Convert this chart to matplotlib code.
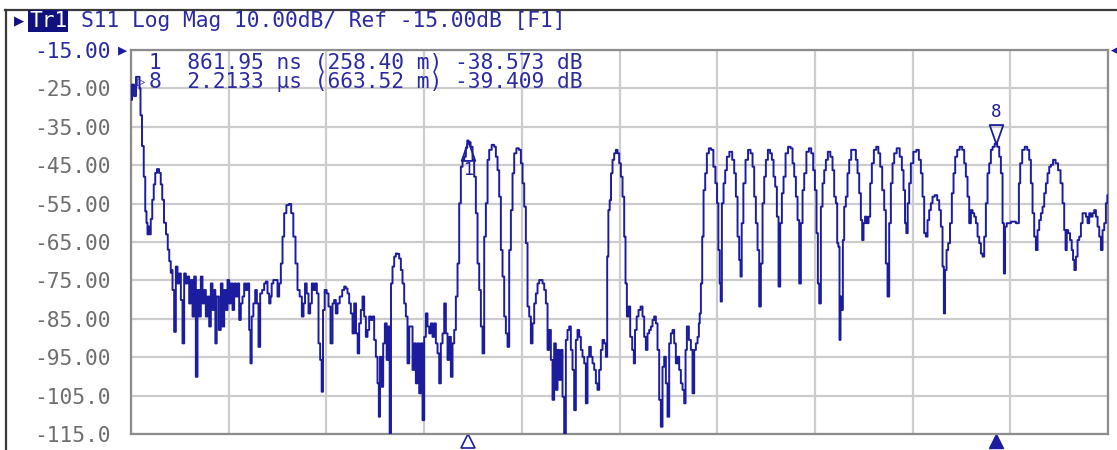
#------------------------------------------------------------------------------
#   VNA time-domain trace (S11 Log Mag) recreation
#------------------------------------------------------------------------------

import matplotlib.pyplot as plt
from matplotlib.transforms import blended_transform_factory
from matplotlib.lines import Line2D

#------------------------------------------------------------------------------
#   Data
#------------------------------------------------------------------------------
time_ns = [
    0, 5.1, 10.2, 15.4, 20.5, 23, 25.6, 30.7, 34.5, 38.4, 40.9, 43.5, 46.1, 48.6,
    52.5, 56.3, 60.1, 64, 69.1, 74.2, 78, 81.9, 87, 92.1, 96, 99.8, 103.6,
    104.1, 108.3, 112.6, 116.9, 121.1, 125.4, 129.7, 133.9, 138.2, 142.5, 146.7,
    151.0, 155.3, 159.5, 163.8, 168.0, 172.3, 176.6, 180.8, 185.1, 189.4, 193.6,
    197.9, 202.2, 206.4, 210.7, 215.0, 216.7, 221.8, 227.8, 232.0, 236.3, 240.6,
    244.8, 249.1, 253.4, 257.6, 261.9, 266.1, 270.4, 274.7, 278.9, 283.2, 287.5,
    291.7, 296.0, 300.3, 304.5, 307.1, 310.5, 315.6, 319.9, 324.1, 328.4, 332.7,
    338.6, 342.9, 347.2, 351.4, 355.7,
    358.3, 361.7, 366.8, 372.8, 377.0, 381.3, 385.6, 389.8, 394.1, 400.9, 406.9,
    412.8, 418.0, 423.9, 428.2, 435.0, 439.3, 443.6, 447.0, 452.1, 456.3, 460.6,
    464.9, 469.1, 473.4, 477.7, 481.9, 486.2, 489.6, 493.0, 498.1, 503.3, 507.5,
    513.5, 517.8, 522.0, 526.3, 530.6, 537.4, 543.4, 547.6, 551.9, 556.2, 560.4,
    564.7, 569.0, 573.2, 578.3, 581.7, 586.0, 590.3, 594.5, 598.8, 603.1, 607.3,
    611.6, 615.9, 620.1, 624.4, 628.7, 632.9, 635.5, 638.9, 643.2, 647.4, 651.7,
    656.8, 660.2, 663.6, 667.0, 671.3, 675.6, 679.8, 684.1, 688.4, 692.6, 696.9,
    701.2, 705.4, 709.7,
    714.0, 718.3, 722.5, 726.8, 731.1, 735.3, 739.6, 743.9, 748.1, 752.4, 756.6,
    760.9, 765.2, 769.4, 773.7, 778.0, 782.2, 786.5, 790.8, 795.0, 799.3, 803.6,
    807.8, 812.1, 816.4, 820.6, 824.9, 829.2, 833.4, 837.7, 841.9, 846.2, 850.5,
    854.7, 859.0, 861.95, 866.0, 871.8, 876.1, 880.3, 884.6, 888.9, 893.1, 897.4,
    901.7, 905.9, 910.2, 914.5, 918.7, 927.2, 931.5, 935.8, 940.0, 944.3, 948.6,
    952.8, 957.1, 961.4, 965.6, 969.9, 974.2, 978.4, 982.7, 989.5, 995.5, 999.8,
    1004.0, 1008.3, 1012.5, 1016.8, 1021.1, 1025.3, 1029.6, 1033.9, 1038.1,
    1042.4, 1046.7, 1050.9, 1055.2, 1059.5, 1063.7, 1068.0,
    1072.2, 1076.5, 1080.7, 1085.0, 1089.3, 1093.5, 1097.8, 1102.1, 1106.3,
    1110.6, 1114.8, 1119.1, 1123.4, 1127.6, 1131.9, 1136.2, 1140.4, 1144.7,
    1149.0, 1153.2, 1157.5, 1161.8, 1166.0, 1170.3, 1174.6, 1178.8, 1183.1,
    1187.4, 1191.6, 1195.9, 1200.2, 1204.4, 1208.7, 1213.0, 1217.2, 1219.8,
    1223.2, 1226.6, 1230.0, 1234.3, 1238.5, 1242.8, 1247.1, 1251.3, 1255.6,
    1259.9, 1264.1, 1266.7, 1271.0, 1275.2, 1279.5, 1285.4, 1288.0, 1291.4,
    1296.5, 1300.8, 1306.8, 1311.0, 1315.3, 1319.6, 1323.8, 1328.1, 1332.4,
    1336.6, 1340.9, 1345.2, 1349.4, 1353.7, 1357.9, 1362.2, 1366.5, 1370.7,
    1375.0, 1379.3, 1383.5, 1387.8, 1392.1, 1396.3, 1400.6, 1404.9, 1409.1,
    1413.4,
    1417.7, 1420.3, 1424.5, 1430.5, 1434.8, 1439.0, 1443.3, 1447.6, 1451.8,
    1454.4, 1456.1, 1460.4, 1462.9, 1467.2, 1471.4, 1475.7, 1481.7, 1487.6,
    1492.8, 1497.9, 1501.3, 1504.7, 1508.1, 1509.8, 1514.1, 1518.4, 1522.6,
    1526.9, 1535.4, 1541.4, 1545.7, 1549.9, 1554.2, 1558.4, 1561.0, 1564.4,
    1569.5, 1575.5, 1582.3, 1588.3, 1592.6, 1596.8, 1601.1, 1605.4, 1609.6,
    1613.9, 1618.2, 1622.4, 1626.7, 1632.7, 1637.8, 1642.0, 1646.3, 1650.6,
    1654.8, 1659.1, 1663.4, 1667.6, 1671.9, 1677.9, 1684.7, 1690.7, 1694.9,
    1699.2, 1703.5, 1707.7, 1712.0, 1716.3, 1720.5, 1724.8, 1731.6, 1737.6,
    1743.5, 1747.8, 1752.1, 1756.3, 1758.9, 1763.2, 1767.4, 1771.7, 1776.0,
    1780.2,
    1786.1, 1793.0, 1797.2, 1801.5, 1805.8, 1808.3, 1811.7, 1814.3, 1816.8,
    1820.3, 1822.8, 1827.1, 1831.3, 1835.6, 1839.9, 1845.8, 1852.7, 1856.9,
    1861.2, 1865.5, 1869.7, 1872.3, 1876.6, 1880.0, 1885.1, 1889.4, 1893.6,
    1897.9, 1903.9, 1909.8, 1915.0, 1919.2, 1925.2, 1929.4, 1933.7, 1938.0,
    1942.2, 1946.5, 1950.8, 1955.0, 1963.6, 1970.4, 1974.7, 1978.9, 1982.3,
    1985.7, 1989.2, 1993.4, 1997.7, 2006.2, 2013.0, 2019.0, 2023.3, 2027.5,
    2031.8, 2036.1, 2040.3, 2044.6, 2048.9, 2053.1, 2059.9, 2065.9, 2070.2,
    2074.4, 2078.7, 2081.3, 2084.7, 2088.9, 2093.2, 2098.3, 2102.6, 2106.9,
    2111.1, 2117.1, 2123.9, 2129.9, 2134.2, 2138.4, 2142.7, 2147.0,
    2151.3, 2155.5, 2159.8, 2164.1, 2168.3, 2172.6, 2176.9, 2181.1, 2185.4,
    2189.6, 2193.9, 2198.2, 2202.4, 2207.0, 2213.3, 2219.5, 2223.8, 2228.0,
    2232.3, 2234.9, 2238.3, 2243.4, 2249.4, 2253.6, 2262.2, 2266.4, 2270.7,
    2273.2, 2277.5, 2283.5, 2290.3, 2296.3, 2300.5, 2304.8, 2309.1, 2313.3,
    2317.6, 2321.9, 2326.1, 2330.4, 2334.7, 2338.9, 2343.2, 2347.5, 2351.7,
    2356.0, 2362.8, 2368.8, 2375.6, 2381.6, 2385.8, 2390.1, 2392.7, 2396.1,
    2400.3, 2405.4, 2408.9, 2412.3, 2415.7, 2420.0, 2424.2, 2428.5, 2432.8,
    2437.0, 2441.3, 2445.6, 2449.8, 2454.1, 2458.4, 2462.6, 2466.9, 2471.2,
    2475.4, 2479.7, 2484.0, 2488.2, 2492.5, 2496.7, 2500.0,
]

s11_db = [
    -28, -24, -27, -22, -22, -25, -32, -40, -48, -57, -60, -63, -61, -63,
    -59, -54, -50, -47, -46, -47, -50, -54, -60, -63, -67, -70, -73,
    -72.3, -77.5, -88.4, -71.4, -75.8, -73.2, -80.1, -91.4, -73.2, -75.8, -74.0,
    -81.0, -74.9, -84.4, -74.0, -100.1, -77.5, -84.4, -74.0, -81.0, -77.5, -84.4,
    -79.2, -87.0, -75.8, -82.7, -77.5, -91.4, -79.2, -87.9, -75.8, -87.0, -77.5,
    -82.7, -74.9, -81.0, -75.8, -82.7, -75.8, -79.2, -75.8, -85.3, -81.0, -79.2,
    -75.8, -77.5, -75.8, -87.9, -96.6, -84.4, -81.0, -77.5, -81.0, -92.3, -78.4,
    -77.5, -75.8, -75.3, -78.4, -81.0,
    -79.2, -75.8, -74.9, -74.9, -79.2, -75.8, -70.6, -63.6, -57.5, -55.4, -55.1,
    -57.5, -63.6, -70.6, -77.5, -79.2, -84.4, -81.0, -75.8, -78.4, -83.6, -81.0,
    -75.8, -77.5, -75.8, -78.4, -91.4, -95.7, -104.0, -82.7, -77.5, -78.4, -81.8,
    -91.4, -81.0, -80.1, -83.6, -81.0, -79.2, -77.5, -76.6, -77.1, -78.4, -81.0,
    -83.6, -88.8, -81.0, -88.8, -94.0, -86.2, -82.7, -79.2, -84.4, -89.7, -87.9,
    -84.4, -85.3, -84.4, -90.5, -94.9, -101.8, -110.5, -94.9, -102.7, -91.4, -86.2,
    -95.7, -87.0, -114.8, -75.8, -71.4, -68.8, -68.0, -68.1, -69.3, -72.3, -75.8,
    -81.0, -84.4, -96.6,
    -87.0, -87.0, -98.3, -91.4, -101.8, -91.4, -104.4, -91.4, -111.4, -89.7, -83.6,
    -87.0, -88.8, -86.2, -89.7, -86.2, -91.4, -94.0, -101.8, -91.4, -88.8, -81.0,
    -88.8, -95.7, -89.7, -100.1, -91.4, -87.9, -79.2, -70.6, -54.9, -45.4, -43.6,
    -42.8, -40.5, -38.573, -39.0, -40.2, -43.6, -48.0, -57.5, -70.6, -77.5, -87.0,
    -94.0, -63.6, -54.9, -43.6, -41.0, -39.7, -40.2, -42.8, -46.3, -53.2, -67.1,
    -74.0, -84.4, -88.8, -92.3, -67.1, -56.7, -47.1, -41.9, -40.6, -41.0, -44.5,
    -49.7, -55.8, -65.3, -81.8, -84.4, -91.4, -86.2, -81.0, -78.4,
    -75.8, -74.9, -74.9, -75.8, -77.5, -81.0, -93.1,
    -87.9, -95.7, -106.1, -91.4, -103.5, -93.1, -100.9, -93.1, -105.3,
    -114.8, -90.5, -87.9, -87.0, -93.1, -98.3, -108.8, -90.5, -87.9,
    -89.7, -93.1, -94.9, -96.6, -107.0, -94.9, -92.3, -94.9, -96.6,
    -98.3, -101.8, -103.5, -98.3, -93.1, -90.5, -91.4, -94.9, -68.8,
    -56.7, -54.1, -47.1, -43.6, -41.9, -41.0, -41.9, -44.5, -48.0,
    -53.2, -63.6, -75.8, -84.4, -81.8, -89.7, -93.1, -96.6, -87.9,
    -84.4, -82.7, -81.8, -84.4, -89.7, -93.1, -88.8, -87.9, -87.0,
    -85.3, -84.4, -86.2, -93.1, -106.1, -113.1, -97.5, -94.9, -101.8,
    -110.5, -91.4, -88.8, -87.9, -91.4, -96.6, -94.9, -98.3, -101.8,
    -103.5,
    -107.0, -93.1, -87.0, -90.5, -93.1, -104.4, -93.1, -91.4, -89.7,
    -86.2, -83.6, -75.8, -63.6, -51.5, -47.1, -41.9, -40.6, -41.0,
    -45.4, -49.7, -54.9, -67.1, -75.8, -80.5, -54.9, -49.7, -46.3,
    -42.8, -41.5, -43.6, -47.1, -53.2, -63.6, -69.7, -74.0, -60.1,
    -49.7, -43.6, -41.0, -41.9, -45.4, -53.2, -60.1, -67.1, -81.8,
    -70.6, -54.9, -48.0, -43.6, -41.0, -41.9, -43.6, -48.0, -50.6,
    -58.4, -76.6, -60.1, -52.3, -48.0, -41.9, -40.2, -40.6, -44.5,
    -48.0, -53.2, -59.3, -75.8, -60.1, -51.5, -47.1, -41.5, -40.6,
    -41.9, -46.3, -51.5, -62.7, -75.8, -81.0, -55.8, -49.7, -46.3,
    -43.6,
    -41.5, -42.8, -46.3, -53.2, -54.9, -65.3, -66.2, -90.5, -79.2,
    -82.7, -64.5, -55.8, -53.2, -47.1, -43.6, -41.0, -41.0, -43.6,
    -47.1, -52.3, -59.3, -64.5, -60.1, -58.4, -60.1, -58.4, -49.7,
    -44.5, -41.0, -40.2, -41.9, -45.4, -51.5, -56.7, -70.6, -79.2,
    -60.1, -49.7, -44.5, -41.9, -40.6, -42.8, -46.3, -51.5, -60.1,
    -62.7, -54.9, -49.7, -44.5, -41.5, -41.0, -43.6, -47.1, -53.2,
    -62.7, -63.6, -59.3, -56.7, -54.9, -53.2, -52.8, -54.1, -56.7,
    -61.0, -71.4, -83.6, -72.3, -67.1, -65.3, -60.1, -52.3, -47.1,
    -42.8, -41.0, -40.2, -41.0, -44.5, -48.0, -53.2, -60.1,
    -56.7, -57.5, -58.4, -60.1, -63.6, -65.3, -68.0, -68.8, -63.6,
    -54.9, -47.1, -44.5, -41.0, -40.2, -39.409, -40.2, -42.8, -47.1,
    -60.1, -73.2, -61.0, -60.1, -60.1, -59.7, -59.7, -60.1, -60.1,
    -49.7, -44.5, -41.0, -40.2, -41.0, -43.6, -49.7, -57.5, -63.6,
    -67.1, -61.9, -59.3, -57.5, -55.8, -52.3, -49.7, -47.1, -45.4,
    -44.9, -43.6, -44.5, -46.3, -49.7, -54.9, -61.9, -67.1, -61.9,
    -62.7, -64.5, -67.1, -69.7, -72.3, -68.8, -64.5, -63.6, -60.1,
    -57.5, -57.5, -58.4, -60.1, -57.5, -58.4, -57.5, -56.7, -58.4,
    -61.0, -63.6, -67.1, -61.9, -60.1, -54.9, -52.8,
]

marker_ids = ['1', '8']
marker_time_ns = [861.95, 2213.3]
marker_db = [-38.573, -39.409]
marker_dist_m = [258.40, 663.52]
marker_readout = ['861.95 ns', '2.2133 µs']

ref_db = -15.0
y_ticks = [-15, -25, -35, -45, -55, -65, -75, -85, -95, -105, -115]
y_tick_labels = ['-15.00', '-25.00', '-35.00', '-45.00', '-55.00', '-65.00',
                 '-75.00', '-85.00', '-95.00', '-105.0', '-115.0']
x_grid_ns = [0, 250, 500, 750, 1000, 1250, 1500, 1750, 2000, 2250, 2500]

header = 'S11 Log Mag 10.00dB/ Ref -15.00dB [F1]'

#------------------------------------------------------------------------------
#   Style
#------------------------------------------------------------------------------
W, H = 1117, 450
trace_col = '#1c1c9e'
text_col = '#2a2aa4'
grey_txt = '#6e6e6e'
grid_col = '#cccccc'
mono = ['DejaVu Sans Mono', 'DejaVu Sans']
fs = 15.3

fig = plt.figure(figsize=(W / 100, H / 100), dpi=100)
fig.patch.set_facecolor('white')
ax = fig.add_axes([131 / W, 1 - 434 / H, (1108 - 131) / W, (434 - 50) / H])

#------------------------------------------------------------------------------
#   Trace and grid
#------------------------------------------------------------------------------
ax.plot(time_ns, s11_db, color=trace_col, lw=1.4, drawstyle='steps-mid', zorder=3)

ax.set_xlim(x_grid_ns[0], x_grid_ns[-1])
ax.set_ylim(y_ticks[-1], y_ticks[0])
ax.set_xticks(x_grid_ns)
ax.set_xticklabels([])
ax.set_yticks(y_ticks)
ax.set_yticklabels(y_tick_labels, family=mono, fontsize=fs, color=grey_txt)
ax.get_yticklabels()[0].set_color(text_col)
ax.tick_params(length=0, pad=14.5)
ax.grid(True, color=grid_col, lw=1.6)
ax.set_axisbelow(True)
for s in ax.spines.values():
    s.set_color('#8c8c8c')
    s.set_linewidth(1.6)

#------------------------------------------------------------------------------
#   Markers
#------------------------------------------------------------------------------
bottom = blended_transform_factory(ax.transData, ax.transAxes)
tri_up = [(0, 0), (-0.7, -2), (0.7, -2), (0, 0)]
tri_dn = [(0, 0), (-0.7, 2), (0.7, 2), (0, 0)]

# marker 1 (inactive): triangle under the peak, number below
ax.plot(marker_time_ns[0], marker_db[0], marker=tri_up, ms=28, mfc='none',
        mec=trace_col, mew=1.3, zorder=4)
ax.annotate(marker_ids[0], (marker_time_ns[0], marker_db[0]), xytext=(0, -21),
            textcoords='offset points', ha='center', va='center',
            family=mono, fontsize=12, color=trace_col)
# marker 8 (active): triangle above the peak, number above
ax.plot(marker_time_ns[1], marker_db[1], marker=tri_dn, ms=28, mfc='none',
        mec=trace_col, mew=1.3, zorder=4)
ax.annotate(marker_ids[1], (marker_time_ns[1], marker_db[1]), xytext=(0, 23),
            textcoords='offset points', ha='center', va='center',
            family=mono, fontsize=12.5, color=trace_col)

# stimulus markers under the grid
ax.plot(marker_time_ns[0], -0.018, marker='^', ms=10, mfc='white', mec=trace_col,
        mew=1.2, transform=bottom, clip_on=False)
ax.plot(marker_time_ns[1], -0.018, marker='^', ms=10, mfc=trace_col, mec=trace_col,
        transform=bottom, clip_on=False)

# reference level arrows
ax.annotate('▶', (0, ref_db), xycoords=('axes fraction', 'data'), xytext=(-6, 0),
            textcoords='offset points', ha='center', va='center',
            family=mono, fontsize=11, color=trace_col, annotation_clip=False)
ax.annotate('◀', (1, ref_db), xycoords=('axes fraction', 'data'), xytext=(2, 0),
            textcoords='offset points', ha='left', va='center',
            family=mono, fontsize=9, color=trace_col, annotation_clip=False)

#------------------------------------------------------------------------------
#   Marker readout
#------------------------------------------------------------------------------
for i in range(len(marker_ids)):
    line = '%s  %s (%.2f m) %.3f dB' % (marker_ids[i], marker_readout[i],
                                        marker_dist_m[i], marker_db[i])
    fig.text(149 / W, 1 - (63 + 19 * i) / H, line, family=mono, fontsize=fs,
             color=text_col, ha='left', va='center')
fig.text(137 / W, 1 - 82 / H, '▷', family=mono, fontsize=10, color=text_col,
         ha='left', va='center')

#------------------------------------------------------------------------------
#   Header and frame
#------------------------------------------------------------------------------
fig.text(14 / W, 1 - 21 / H, '▶', family=mono, fontsize=12, color='#10107e',
         ha='left', va='center')
fig.text(29 / W, 1 - 21 / H, 'Tr1', family=mono, fontsize=fs, color='white',
         ha='left', va='center',
         bbox=dict(boxstyle='square,pad=0.05', fc='#10107e', ec='none'))
fig.text(81 / W, 1 - 21 / H, header, family=mono, fontsize=fs, color=text_col,
         ha='left', va='center')

fig.add_artist(Line2D([5 / W, 1], [1 - 10 / H, 1 - 10 / H], color='#3a3a3a', lw=1.6,
                      transform=fig.transFigure))
fig.add_artist(Line2D([6 / W, 6 / W], [0, 1 - 10 / H], color='#3a3a3a', lw=1.6,
                      transform=fig.transFigure))

fig.savefig('out.png', dpi=100)
